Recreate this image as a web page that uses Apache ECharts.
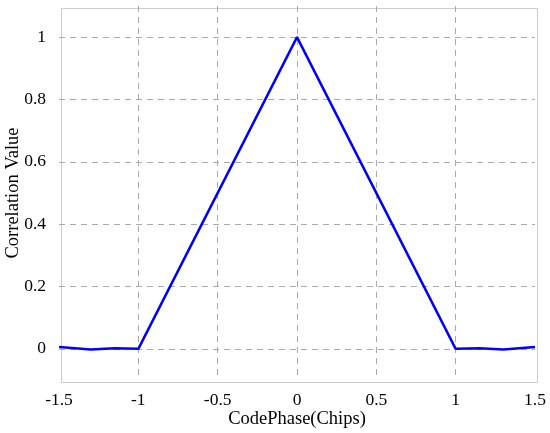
<!DOCTYPE html>
<html>
<head>
<meta charset="utf-8">
<script src="https://cdn.jsdelivr.net/npm/echarts@6/dist/echarts.min.js"></script>
<style>
  html, body { margin: 0; padding: 0; background: #fff; }
  #chart { width: 550px; height: 433px; }
</style>
</head>
<body>
<div id="chart"></div>
<script>
// code phase in chips and the correlation
const codePhase = [-1.5, -1.3, -1.15, -1.0, 0, 1.0, 1.15, 1.3, 1.5];
const correlation = [0.006, -0.002, 0.002, 0, 1, 0, 0.002, -0.002, 0.006];
const yTicks = [0, 0.2, 0.4, 0.6, 0.8, 1];

const font = "'Liberation Serif', 'Times New Roman', serif";
const dash = { color: "#aaa", type: [6, 5], width: 1 };

const chart = echarts.init(document.getElementById("chart"));
chart.setOption({
  animation: false,
  grid: { left: 59, right: 15, top: 6, bottom: 53, outerBoundsMode: "none", containLabel: false },
  xAxis: {
    type: "value",
    min: -1.5,
    max: 1.5,
    interval: 0.5,
    name: "CodePhase(Chips)",
    nameLocation: "middle",
    nameGap: 30,
    nameMoveOverlap: false,
    nameTextStyle: { fontFamily: font, fontSize: 18.5, color: "#000" },
    axisLine: { show: false },
    axisTick: { show: false },
    axisLabel: { fontFamily: font, fontSize: 17.5, color: "#000", margin: 11 },
    splitLine: { show: true, showMinLine: false, showMaxLine: false, lineStyle: dash }
  },
  yAxis: {
    type: "value",
    min: -0.1,
    max: 1.1,
    name: "Correlation Value",
    nameLocation: "middle",
    nameGap: 36,
    nameMoveOverlap: false,
    nameTextStyle: { fontFamily: font, fontSize: 18.5, color: "#000" },
    axisLine: { show: false },
    axisTick: { show: false },
    axisLabel: {
      fontFamily: font, fontSize: 17.5, color: "#000", margin: 13,
      customValues: yTicks
    },
    splitLine: { show: false }
  },
  series: [
    {
      // horizontal grid lines, kept under the curve
      type: "line",
      data: [],
      z: 1,
      markLine: {
        silent: true,
        symbol: "none",
        label: { show: false },
        lineStyle: dash,
        data: yTicks.map(v => ({ yAxis: v }))
      }
    },
    {
      type: "line",
      data: codePhase.map((x, i) => [x, correlation[i]]),
      z: 5,
      showSymbol: false,
      lineStyle: { color: "#0000ff", width: 2.5 }
    }
  ],
  graphic: [
    {
      type: "rect",
      left: 59, top: 6,
      shape: { width: 476, height: 374 },
      style: { fill: "none", stroke: "#ccc", lineWidth: 1 },
      silent: true
    }
  ]
});
</script>
</body>
</html>
